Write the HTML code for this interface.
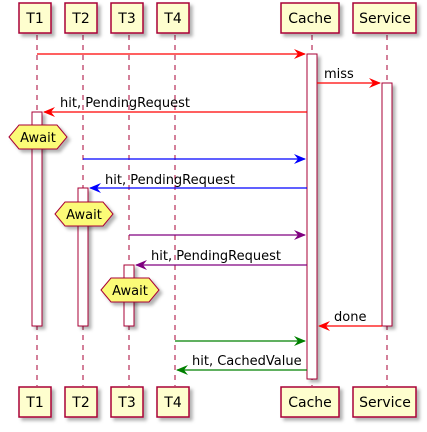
<!DOCTYPE html>
<html><head><style>body{margin:0;background:#fff}</style></head><body>
<svg width="427" height="427" xmlns="http://www.w3.org/2000/svg" font-family="DejaVu Sans, Liberation Sans, sans-serif" font-size="13">
<defs>
<filter id="sh" x="-20%" y="-20%" width="150%" height="150%"><feDropShadow dx="3" dy="3" stdDeviation="1.5" flood-color="#000" flood-opacity="0.3"/></filter>
</defs>
<g stroke="#A80036" stroke-width="1" stroke-dasharray="5,5">
<line x1="37" y1="35" x2="37" y2="386"/><line x1="83" y1="35" x2="83" y2="386"/>
<line x1="129" y1="35" x2="129" y2="386"/><line x1="175" y1="35" x2="175" y2="386"/>
<line x1="312" y1="35" x2="312" y2="386"/><line x1="387" y1="35" x2="387" y2="386"/>
</g>
<g fill="#FEFECE" stroke="#A80036" stroke-width="1.5" filter="url(#sh)">
<rect x="19" y="3" width="32" height="30"/><rect x="65" y="3" width="32" height="30"/>
<rect x="111" y="3" width="32" height="30"/><rect x="157" y="3" width="32" height="30"/>
<rect x="281" y="3" width="58" height="30"/><rect x="353" y="3" width="63" height="30"/>
<rect x="19" y="387" width="32" height="30"/><rect x="65" y="387" width="32" height="30"/>
<rect x="111" y="387" width="32" height="30"/><rect x="157" y="387" width="32" height="30"/>
<rect x="281" y="387" width="58" height="30"/><rect x="353" y="387" width="63" height="30"/>
</g>
<g fill="#000" font-size="14" text-anchor="middle">
<text x="35" y="23">T1</text><text x="81" y="23">T2</text><text x="127" y="23">T3</text><text x="173" y="23">T4</text>
<text x="310" y="23">Cache</text><text x="385" y="23">Service</text>
<text x="35" y="407">T1</text><text x="81" y="407">T2</text><text x="127" y="407">T3</text><text x="173" y="407">T4</text>
<text x="310" y="407">Cache</text><text x="385" y="407">Service</text>
</g>
<g fill="#fff" stroke="#A80036" stroke-width="1" filter="url(#sh)">
<rect x="307" y="54" width="10" height="325"/>
<rect x="382" y="83" width="10" height="243"/>
<rect x="32" y="112" width="10" height="214"/>
<rect x="78" y="188" width="10" height="138"/>
<rect x="124" y="265" width="10" height="61"/>
</g>
<g fill="#FBFB77" stroke="#A80036" stroke-width="1" filter="url(#sh)">
<polygon points="9,137 19,125 57,125 67,137 57,149 19,149"/>
<polygon points="55,214 65,202 103,202 113,214 103,226 65,226"/>
<polygon points="101,290 111,278 149,278 159,290 149,302 111,302"/>
</g>
<g fill="#000" text-anchor="middle">
<text x="38" y="142">Await</text><text x="84" y="219">Await</text><text x="130" y="295">Await</text>
</g>
<g stroke-width="1.2" fill="none">
<line x1="37" y1="54" x2="305" y2="54" stroke="#f00"/>
<line x1="317" y1="83" x2="380" y2="83" stroke="#f00"/>
<line x1="307" y1="112" x2="44" y2="112" stroke="#f00"/>
<line x1="83" y1="159" x2="305" y2="159" stroke="#00f"/>
<line x1="307" y1="188" x2="90" y2="188" stroke="#00f"/>
<line x1="129" y1="235" x2="305" y2="235" stroke="#800080"/>
<line x1="307" y1="265" x2="136" y2="265" stroke="#800080"/>
<line x1="382" y1="326" x2="319" y2="326" stroke="#f00"/>
<line x1="175" y1="341" x2="305" y2="341" stroke="#008000"/>
<line x1="307" y1="370" x2="177" y2="370" stroke="#008000"/>
</g>
<g>
<polygon points="306,54 294,49 298,54 294,59" fill="#f00"/>
<polygon points="381,83 369,78 373,83 369,88" fill="#f00"/>
<polygon points="43,112 55,107 51,112 55,117" fill="#f00"/>
<polygon points="306,159 294,154 298,159 294,164" fill="#00f"/>
<polygon points="89,188 101,183 97,188 101,193" fill="#00f"/>
<polygon points="306,235 294,230 298,235 294,240" fill="#800080"/>
<polygon points="135,265 147,260 143,265 147,270" fill="#800080"/>
<polygon points="318,326 330,321 326,326 330,331" fill="#f00"/>
<polygon points="306,341 294,336 298,341 294,346" fill="#008000"/>
<polygon points="176,370 188,365 184,370 188,375" fill="#008000"/>
</g>
<g fill="#000">
<text x="324" y="78">miss</text>
<text x="60" y="107">hit, PendingRequest</text>
<text x="105" y="184">hit, PendingRequest</text>
<text x="151" y="260">hit, PendingRequest</text>
<text x="334" y="321">done</text>
<text x="192" y="365">hit, CachedValue</text>
</g>
</svg>
</body></html>
